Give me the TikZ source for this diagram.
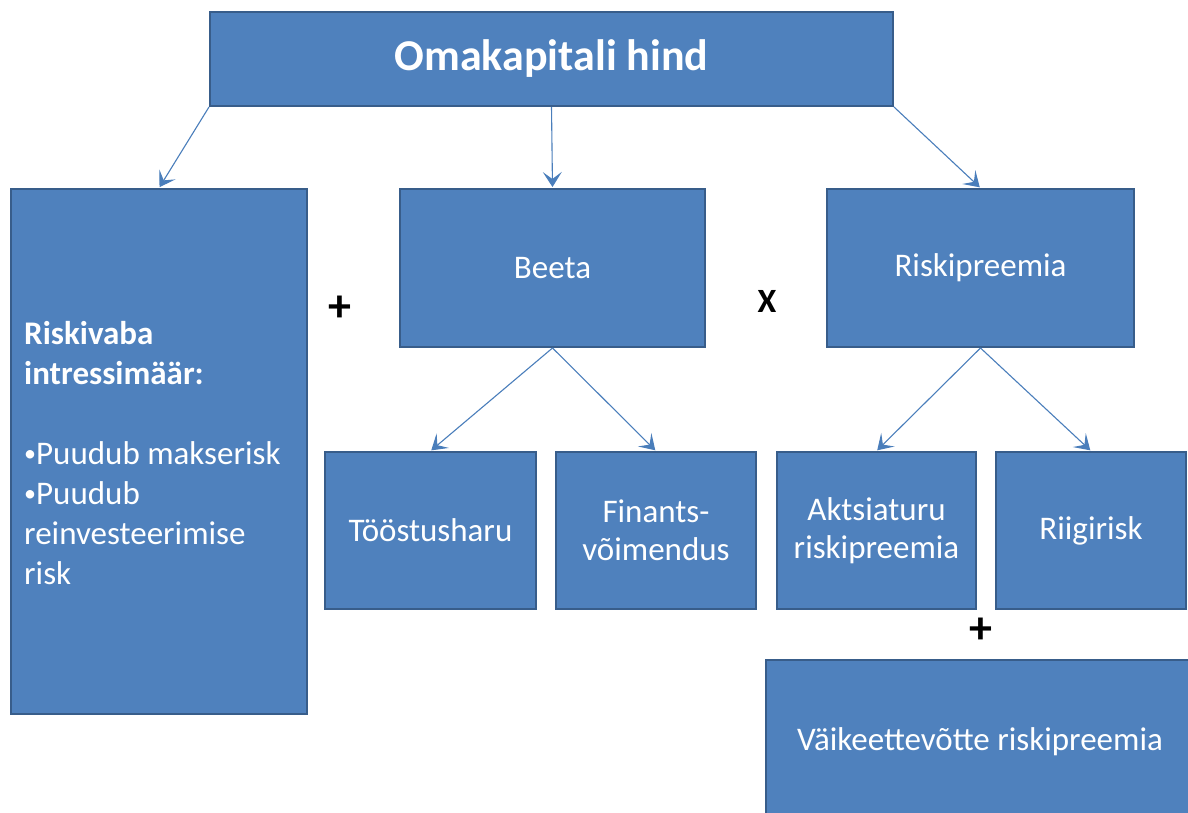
\documentclass[tikz,border=0pt]{standalone}
\usepackage{fontspec}
\setmainfont{Carlito}
\usetikzlibrary{arrows.meta}
\definecolor{boxfill}{HTML}{4F81BD}
\definecolor{boxline}{HTML}{385D8A}
\definecolor{linkcol}{HTML}{4A7EBB}
% small list bullet
\newcommand{\smallbul}{\raisebox{2.5pt}{\fontsize{24}{24}\selectfont •}}
\begin{document}
\begin{tikzpicture}[x=1pt,y=-1pt,
  box/.style={draw=boxline,line width=2pt,fill=boxfill,text=white,
    inner sep=0pt,align=center,font=\fontsize{33}{40}\selectfont},
  link/.style={draw=linkcol,line width=1.1pt,
    -{Stealth[length=15pt,width=19pt,inset=7pt]},shorten >=1pt},
  op/.style={font=\fontsize{34}{40}\selectfont\bfseries,text=black,inner sep=0pt}]
\clip (0,0) rectangle (1188,813);
\fill[white] (0,0) rectangle (1188,813);

% top level
\node[box,minimum width=683pt,minimum height=94pt,
  font=\fontsize{44}{50}\selectfont\bfseries] (top) at (551.5,59) {Omakapitali hind};

% second level
\node[box,minimum width=296pt,minimum height=525pt] (left) at (159,451.5) {};
\node[text=white,inner sep=0pt,anchor=north west,align=left,
  font=\fontsize{33}{40}\selectfont] (lefttext) at (24,321)
  {\textbf{Riskivaba}\\\textbf{intressimäär:}\\[40pt]\smallbul Puudub makserisk\\\smallbul Puudub\\reinvesteerimise\\risk};
\node[box,minimum width=305pt,minimum height=158pt] (beeta) at (552.5,268) {Beeta};
\node[box,minimum width=307pt,minimum height=158pt] (risk) at (980.5,268) {Riskipreemia};

% third level
\node[box,minimum width=211pt,minimum height=157pt] (tood) at (430.5,530.5) {Tööstusharu};
\node[box,minimum width=200pt,minimum height=157pt] (fin) at (656,530.5) {Finants-\\[-2pt]võimendus};
\node[box,minimum width=199pt,minimum height=157pt] (akts) at (876.5,530.5) {Aktsiaturu\\[-2pt]riskipreemia};
\node[box,minimum width=190pt,minimum height=157pt] (riigi) at (1091,530.5) {Riigirisk};
\node[box,minimum width=428pt,minimum height=164pt] (vaike) at (980,742) {Väikeettevõtte riskipreemia};

% operators
\node[op,font=\fontsize{46}{50}\selectfont\bfseries] (plusa) at (340,309) {+};
\node[op] (times) at (767,301) {X};
\node[op,font=\fontsize{46}{50}\selectfont\bfseries] (plusb) at (981,631) {+};

% connectors
\draw[link] (top.south west) -- (left.north);
\draw[link] (top.south) -- (beeta.north);
\draw[link] (top.south east) -- (risk.north);
\draw[link] (beeta.south) -- (tood.north);
\draw[link] (beeta.south) -- (fin.north);
\draw[link] (risk.south) -- (akts.north);
\draw[link] (risk.south) -- (riigi.north);
\end{tikzpicture}
\end{document}
